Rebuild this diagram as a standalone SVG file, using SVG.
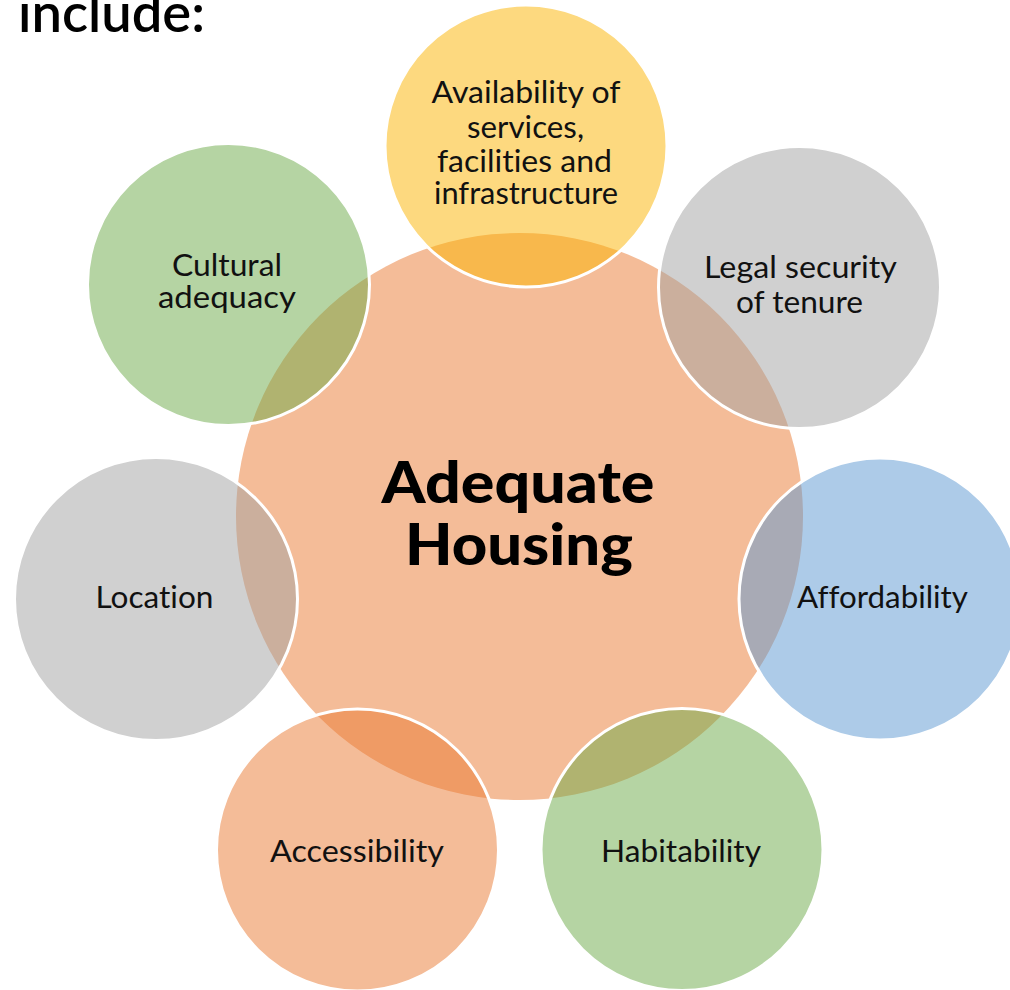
<svg xmlns="http://www.w3.org/2000/svg" width="1010" height="990" viewBox="0 0 1010 990">
<style>
  text { font-variant-ligatures: none; font-feature-settings: "liga" 0, "clig" 0; }
  .bub { stroke: #FFFFFF; stroke-width: 3; fill-opacity: 0.5; }
  .lbl { font-family: Lato, "Liberation Sans", sans-serif; font-size: 30px; fill: #111111; text-anchor: middle; }
  .ttl { font-family: Lato, "Liberation Sans", sans-serif; font-size: 58px; font-weight: 900; fill: #000000; text-anchor: middle; }
  .hdr { font-family: Lato, "Liberation Sans", sans-serif; font-size: 53px; font-weight: 600; fill: #000000; }
</style>
<rect width="1010" height="990" fill="#FFFFFF"/>
<text class="hdr" x="18" y="32" textLength="187" lengthAdjust="spacingAndGlyphs">include:</text>

<g id="center">
  <circle cx="519.5" cy="516.5" r="283.5" fill="#F4BC98"/>
  <text class="ttl" x="518" y="503" textLength="273" lengthAdjust="spacingAndGlyphs">Adequate</text>
  <text class="ttl" x="519" y="565" textLength="228" lengthAdjust="spacingAndGlyphs">Housing</text>
</g>

<g id="connectors"></g>

<g id="availability">
  <circle class="bub" cx="526" cy="146" r="141" fill="#FBB300"/>
  <text class="lbl" x="526" y="103" textLength="189" lengthAdjust="spacingAndGlyphs">Availability of</text>
  <text class="lbl" x="525.5" y="138" textLength="117" lengthAdjust="spacingAndGlyphs">services,</text>
  <text class="lbl" x="524.5" y="172" textLength="175" lengthAdjust="spacingAndGlyphs">facilities and</text>
  <text class="lbl" x="526" y="204" textLength="184" lengthAdjust="spacingAndGlyphs">infrastructure</text>
</g>

<g id="legal-security">
  <circle class="bub" cx="799.5" cy="287.5" r="141" fill="#A1A1A1"/>
  <text class="lbl" x="800.5" y="278" textLength="193" lengthAdjust="spacingAndGlyphs">Legal security</text>
  <text class="lbl" x="799.5" y="313" textLength="127" lengthAdjust="spacingAndGlyphs">of tenure</text>
</g>

<g id="affordability">
  <circle class="bub" cx="880" cy="599" r="141" fill="#5B97D1"/>
  <text class="lbl" x="882.5" y="608" textLength="171" lengthAdjust="spacingAndGlyphs">Affordability</text>
</g>

<g id="habitability">
  <circle class="bub" cx="682" cy="849.5" r="141" fill="#6BA947"/>
  <text class="lbl" x="681" y="862" textLength="160" lengthAdjust="spacingAndGlyphs">Habitability</text>
</g>

<g id="accessibility">
  <circle class="bub" cx="357.5" cy="850" r="141" fill="#E97931"/>
  <text class="lbl" x="357" y="862" textLength="174" lengthAdjust="spacingAndGlyphs">Accessibility</text>
</g>

<g id="location">
  <circle class="bub" cx="156" cy="599" r="141.5" fill="#A1A1A1"/>
  <text class="lbl" x="154.5" y="608" textLength="118" lengthAdjust="spacingAndGlyphs">Location</text>
</g>

<g id="cultural-adequacy">
  <circle class="bub" cx="228.5" cy="284.5" r="141" fill="#6BA947"/>
  <text class="lbl" x="227" y="276" textLength="110" lengthAdjust="spacingAndGlyphs">Cultural</text>
  <text class="lbl" x="227" y="308" textLength="138" lengthAdjust="spacingAndGlyphs">adequacy</text>
</g>
</svg>
